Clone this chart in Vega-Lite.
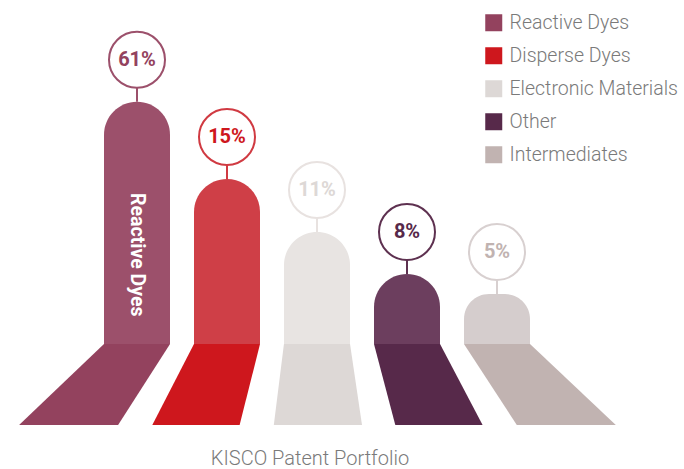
{
  "$schema": "https://vega.github.io/schema/vega-lite/v6.json",
  "width": 684,
  "height": 440,
  "autosize": {"type": "none"},
  "padding": {"left": 0, "top": 0, "right": 0, "bottom": 29},
  "background": "white",
  "config": {"view": {"stroke": null}, "font": "Roboto"},
  "title": {"text": "KISCO Patent Portfolio", "orient": "bottom", "anchor": "middle", "dx": -32, "offset": 9, "fontSize": 20, "fontWeight": 300, "font": "Roboto", "color": "#7a7a7a"},
  "datasets": {
    "shares": [
      {"category": "Reactive Dyes", "share": 0.61},
      {"category": "Disperse Dyes", "share": 0.15},
      {"category": "Electronic Materials", "share": 0.11},
      {"category": "Other", "share": 0.08},
      {"category": "Intermediates", "share": 0.05}
    ],
    "floors": [
      {"category": "Reactive Dyes", "depth": 0, "left": 0.633, "right": 1.367},
      {"category": "Reactive Dyes", "depth": 1, "left": -0.31, "right": 0.79},
      {"category": "Disperse Dyes", "depth": 0, "left": 1.633, "right": 2.367},
      {"category": "Disperse Dyes", "depth": 1, "left": 1.17, "right": 2.14},
      {"category": "Electronic Materials", "depth": 0, "left": 2.633, "right": 3.367},
      {"category": "Electronic Materials", "depth": 1, "left": 2.52, "right": 3.5},
      {"category": "Other", "depth": 0, "left": 3.633, "right": 4.367},
      {"category": "Other", "depth": 1, "left": 3.87, "right": 4.84},
      {"category": "Intermediates", "depth": 0, "left": 4.633, "right": 5.367},
      {"category": "Intermediates", "depth": 1, "left": 5.22, "right": 6.32}
    ]
  },
  "layer": [
    {
      "data": {"name": "floors"},
      "mark": {"type": "area", "orient": "horizontal", "opacity": 1},
      "encoding": {
        "y": {"field": "depth", "type": "quantitative", "scale": {"domain": [0, 1], "range": [344, 425]}, "axis": null},
        "x": {"field": "left", "type": "quantitative", "scale": {"domain": [1, 5], "range": [137, 497]}, "axis": null},
        "x2": {"field": "right"},
        "color": {
          "field": "category", "type": "nominal", "sort": null,
          "scale": {
            "domain": ["Reactive Dyes", "Disperse Dyes", "Electronic Materials", "Other", "Intermediates"],
            "range": ["#93425E", "#CE171D", "#DDD8D6", "#57294A", "#C1B3B1"]
          },
          "legend": {
            "title": null, "orient": "none", "legendX": 484, "legendY": 13,
            "symbolType": "square", "symbolSize": 289, "symbolStrokeWidth": 0, "symbolOpacity": 1,
            "labelFont": "Roboto", "labelFontSize": 19.5, "labelFontWeight": 300, "labelColor": "#7a7a7a",
            "labelOffset": 6, "rowPadding": 12, "padding": 0, "labelLimit": 300
          }
        }
      }
    },
    {
      "data": {"name": "shares"},
      "layer": [
        {
          "mark": {"type": "bar", "size": 66, "cornerRadiusTopLeft": 33, "cornerRadiusTopRight": 33},
          "encoding": {
            "x": {"field": "category", "type": "nominal", "sort": null, "scale": {"domain": ["Reactive Dyes", "Disperse Dyes", "Electronic Materials", "Other", "Intermediates"], "range": [92, 542], "paddingInner": 0, "paddingOuter": 0}, "axis": null},
            "y": {"field": "share", "type": "quantitative", "scale": {"domain": [0, 0.05, 0.08, 0.11, 0.15, 0.61], "range": [344, 294, 274, 232, 179, 95]}, "axis": null},
            "y2": {"datum": 0},
            "fill": {"field": "category", "type": "nominal", "sort": null, "scale": {"domain": ["Reactive Dyes", "Disperse Dyes", "Electronic Materials", "Other", "Intermediates"], "range": ["#9C506B", "#CF3F47", "#E8E4E2", "#6C3E5E", "#D5CDCD"]}, "legend": null}
          }
        },
        {
          "mark": {"type": "rule", "strokeWidth": 2, "yOffset": -14, "y2Offset": 0},
          "encoding": {
            "x": {"field": "category", "type": "nominal", "sort": null},
            "y": {"field": "share", "type": "quantitative"},
            "y2": {"field": "share"},
            "stroke": {"field": "category", "type": "nominal", "sort": null, "scale": {"domain": ["Reactive Dyes", "Disperse Dyes", "Electronic Materials", "Other", "Intermediates"], "range": ["#9C506B", "#D03A42", "#E8E2E0", "#5E3150", "#D8D0D0"]}, "legend": null}
          }
        },
        {
          "mark": {"type": "point", "shape": "circle", "size": 3136, "filled": false, "fill": "white", "strokeWidth": 2, "yOffset": -42, "opacity": 1},
          "encoding": {
            "x": {"field": "category", "type": "nominal", "sort": null},
            "y": {"field": "share", "type": "quantitative"},
            "stroke": {"field": "category", "type": "nominal", "sort": null, "legend": null}
          }
        },
        {
          "mark": {"type": "text", "fontSize": 20, "fontWeight": "bold", "font": "Roboto", "yOffset": -42, "baseline": "middle", "align": "center"},
          "encoding": {
            "x": {"field": "category", "type": "nominal", "sort": null},
            "y": {"field": "share", "type": "quantitative"},
            "text": {"field": "share", "type": "quantitative", "format": ".0%"},
            "color": {"field": "category", "type": "nominal", "sort": null, "legend": null}
          }
        },
        {
          "transform": [{"filter": "datum.share > 0.5"}],
          "mark": {"type": "text", "angle": 90, "fontSize": 19.5, "fontWeight": "bold", "font": "Roboto", "color": "white", "yOffset": 153, "baseline": "middle", "align": "center"},
          "encoding": {
            "x": {"field": "category", "type": "nominal", "sort": null},
            "y": {"field": "share", "type": "quantitative"},
            "text": {"field": "category", "type": "nominal"}
          }
        }
      ]
    }
  ],
  "resolve": {"scale": {"x": "independent", "y": "independent"}}
}
